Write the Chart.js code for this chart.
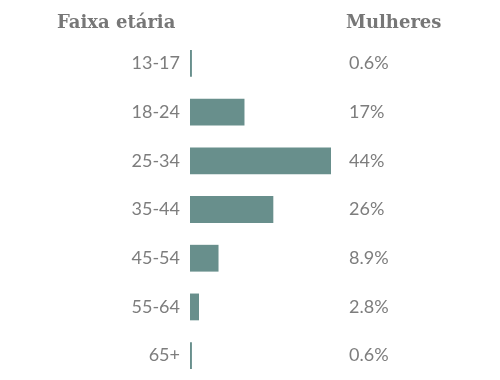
<!DOCTYPE html>
<html>
<head>
<meta charset="utf-8">
<script src="https://cdn.jsdelivr.net/npm/chart.js@4"></script>
<style>
  html, body { margin: 0; padding: 0; background: #fff; overflow: hidden; }
  #wrap { position: relative; width: 500px; height: 380px; }
  .head { position: absolute; top: 11px; font-family: "DejaVu Serif", serif; font-weight: bold; font-size: 18px; color: #777; white-space: nowrap; }
</style>
</head>
<body>
<div id="wrap">
  <canvas id="chart" width="500" height="380"></canvas>
  <span class="head" style="left:57px">Faixa etária</span>
  <span class="head" style="left:346px">Mulheres</span>
</div>
<script>
const faixas = ['13-17', '18-24', '25-34', '35-44', '45-54', '55-64', '65+'];
const mulheres = [0.6, 17, 44, 26, 8.9, 2.8, 0.6];
const rotulos = mulheres.map(v => v + '%');

const fonte = { family: 'Lato', size: 18 };

// largura fixa dos eixos e sem padding vertical extra
function fixa(largura) {
    return s => { s.width = largura; s.paddingTop = 0; s.paddingBottom = 0; };
}

new Chart(document.getElementById('chart').getContext('2d'), {
    type: 'bar',
    data: {
        labels: faixas,
        datasets: [
            { label: 'Mulheres', data: mulheres, backgroundColor: '#688f8c',
              barPercentage: 0.55, categoryPercentage: 1, yAxisID: 'y' }
        ]
    },
    options: {
        indexAxis: 'y',
        responsive: false,
        animation: false,
        layout: { padding: { top: 39, bottom: 0, left: 0, right: 0 } },
        plugins: { legend: { display: false }, tooltip: { enabled: false } },
        scales: {
            x: { min: 0, max: 44, display: false },
            y: {
                position: 'left',
                border: { display: false },
                grid: { display: false, drawTicks: false },
                ticks: { color: '#7d7d7d', font: fonte, padding: 10 },
                afterFit: fixa(190)
            },
            y2: {
                type: 'category',
                labels: rotulos,
                position: 'right',
                offset: true,
                border: { display: false },
                grid: { display: false, drawTicks: false },
                ticks: { color: '#7d7d7d', font: fonte, padding: 18 },
                afterFit: fixa(169)
            }
        }
    }
});
</script>
</body>
</html>
